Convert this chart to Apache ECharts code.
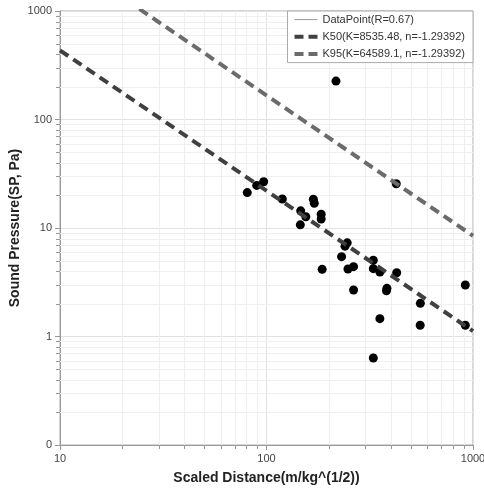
<!DOCTYPE html>
<html>
<head>
<meta charset="utf-8">
<script src="https://cdn.jsdelivr.net/npm/echarts@6/dist/echarts.min.js"></script>
<style>
html,body{margin:0;padding:0;background:#fff;}
#chart{width:484px;height:489px;}
</style>
</head>
<body>
<div id="chart"></div>
<script>
// Observed data points (scaled distance, sound pressure)
const pointX = [217, 425, 80.7, 89.7, 96.9, 119.3, 168.6, 170.4, 146.4, 155, 145.8, 184, 184, 246, 240, 231, 186, 248, 264, 264, 329, 329, 354, 427, 383, 381, 354, 329, 556, 555, 918, 918];
const pointY = [226, 25.6, 21.2, 24.7, 26.7, 18.5, 18.4, 16.9, 14.4, 12.7, 10.7, 13.4, 12.1, 7.3, 6.8, 5.44, 4.16, 4.19, 4.40, 2.68, 5.04, 4.22, 3.93, 3.87, 2.78, 2.64, 1.46, 0.634, 2.02, 1.27, 2.98, 1.27];

// Fitted line parameters SP = K * SD^n
const K50 = 8535.48;
const K95 = 64589.1;
const nExp = -1.29392;
const lineX = [10, 1000];

// Axis ranges and minor grid values
const xRange = [10, 1000];
const yRange = [0.1, 1000];
const xMinor = [20, 30, 40, 50, 60, 70, 80, 90, 200, 300, 400, 500, 600, 700, 800, 900];
const yMinor = [0.2, 0.3, 0.4, 0.5, 0.6, 0.7, 0.8, 0.9, 2, 3, 4, 5, 6, 7, 8, 9, 20, 30, 40, 50, 60, 70, 80, 90, 200, 300, 400, 500, 600, 700, 800, 900];

const legendNames = ['DataPoint(R=0.67)', 'K50(K=8535.48, n=-1.29392)', 'K95(K=64589.1, n=-1.29392)'];

const scatterData = pointX.map((x, i) => [x, pointY[i]]);
const k50Data = lineX.map(x => [x, K50 * Math.pow(x, nExp)]);
const k95Data = lineX.map(x => [x, K95 * Math.pow(x, nExp)]);

const minorColor = '#efefef';
const tickColor = '#999';

const chart = echarts.init(document.getElementById('chart'), null, {renderer: 'canvas'});
chart.setOption({
  animation: false,
  backgroundColor: '#fff',
  textStyle: {fontFamily: 'Liberation Sans, Arial, sans-serif'},
  grid: {left: 60, right: 11, top: 11, bottom: 44, show: true, borderColor: '#aaa', borderWidth: 1, outerBoundsMode: 'none'},
  legend: {
    orient: 'vertical',
    right: 11, top: 11,
    backgroundColor: '#fff',
    borderColor: '#aaa', borderWidth: 1, borderRadius: 0,
    padding: [3, 8, 3, 5],
    itemWidth: 23, itemHeight: 14, itemGap: 6,
    textStyle: {fontSize: 11, color: '#333', fontFamily: 'Liberation Sans, Arial, sans-serif'},
    data: [
      {name: legendNames[0], itemStyle: {opacity: 0}, lineStyle: {width: 1, color: '#999', type: 'solid'}},
      {name: legendNames[1], itemStyle: {opacity: 0}, lineStyle: {width: 4, color: '#404040', type: [9, 5]}},
      {name: legendNames[2], itemStyle: {opacity: 0}, lineStyle: {width: 4, color: '#6b6b6b', type: [9, 5]}}
    ]
  },
  xAxis: {
    type: 'log', logBase: 10, min: xRange[0], max: xRange[1],
    name: 'Scaled Distance(m/kg^(1/2))', nameLocation: 'middle', nameGap: 26, nameMoveOverlap: false,
    nameTextStyle: {fontSize: 14, fontWeight: 'bold', color: '#222'},
    axisLine: {show: true, lineStyle: {color: '#999'}},
    axisTick: {show: true, length: 5, lineStyle: {color: tickColor}},
    axisLabel: {fontSize: 11, color: '#444', margin: 8, showMaxLabel: true, showMinLabel: true, formatter: v => String(Math.round(v))},
    splitLine: {show: true, lineStyle: {color: '#e2e2e2'}}
  },
  yAxis: {
    type: 'log', logBase: 10, min: yRange[0], max: yRange[1],
    name: 'Sound Pressure(SP, Pa)', nameLocation: 'middle', nameGap: 38, nameMoveOverlap: false,
    nameTextStyle: {fontSize: 14, fontWeight: 'bold', color: '#222'},
    axisLine: {show: true, lineStyle: {color: '#999'}},
    axisTick: {show: true, length: 5, lineStyle: {color: tickColor}},
    axisLabel: {fontSize: 11, color: '#444', margin: 8, formatter: v => v < 1 ? '0' : String(Math.round(v))},
    splitLine: {show: true, lineStyle: {color: '#e2e2e2'}}
  },
  series: [
    {
      type: 'custom', name: 'xminor', silent: true, z: 1, clip: false,
      data: xMinor.map(v => [v, yRange[0]]),
      renderItem: (params, api) => {
        const v = api.value(0);
        const b = api.coord([v, yRange[0]]);
        const t = api.coord([v, yRange[1]]);
        const x = Math.round(b[0]) + 0.5;
        return {type: 'group', children: [
          {type: 'line', shape: {x1: x, y1: t[1], x2: x, y2: b[1]}, style: {stroke: minorColor, lineWidth: 1}},
          {type: 'line', shape: {x1: x, y1: b[1], x2: x, y2: b[1] + 4}, style: {stroke: tickColor, lineWidth: 1}}
        ]};
      }
    },
    {
      type: 'custom', name: 'yminor', silent: true, z: 1, clip: false,
      data: yMinor.map(v => [xRange[0], v]),
      renderItem: (params, api) => {
        const v = api.value(1);
        const l = api.coord([xRange[0], v]);
        const r = api.coord([xRange[1], v]);
        const y = Math.round(l[1]) + 0.5;
        return {type: 'group', children: [
          {type: 'line', shape: {x1: l[0], y1: y, x2: r[0], y2: y}, style: {stroke: minorColor, lineWidth: 1}},
          {type: 'line', shape: {x1: l[0] - 4, y1: y, x2: l[0], y2: y}, style: {stroke: tickColor, lineWidth: 1}}
        ]};
      }
    },
    {
      type: 'line', name: legendNames[0], data: [], symbol: 'none',
      lineStyle: {width: 1, color: '#999'}, itemStyle: {color: '#999'}
    },
    {
      type: 'scatter', name: 'points', data: scatterData, symbol: 'circle', symbolSize: 9,
      itemStyle: {color: '#000', opacity: 1}, z: 3
    },
    {
      type: 'line', name: legendNames[1], data: k50Data, symbol: 'none', z: 4,
      lineStyle: {width: 4, color: '#404040', type: [10, 6], cap: 'butt'}, itemStyle: {color: '#404040'}
    },
    {
      type: 'line', name: legendNames[2], data: k95Data, symbol: 'none', z: 4,
      lineStyle: {width: 4, color: '#6b6b6b', type: [10, 6], cap: 'butt'}, itemStyle: {color: '#6b6b6b'}
    }
  ]
});
</script>
</body>
</html>
